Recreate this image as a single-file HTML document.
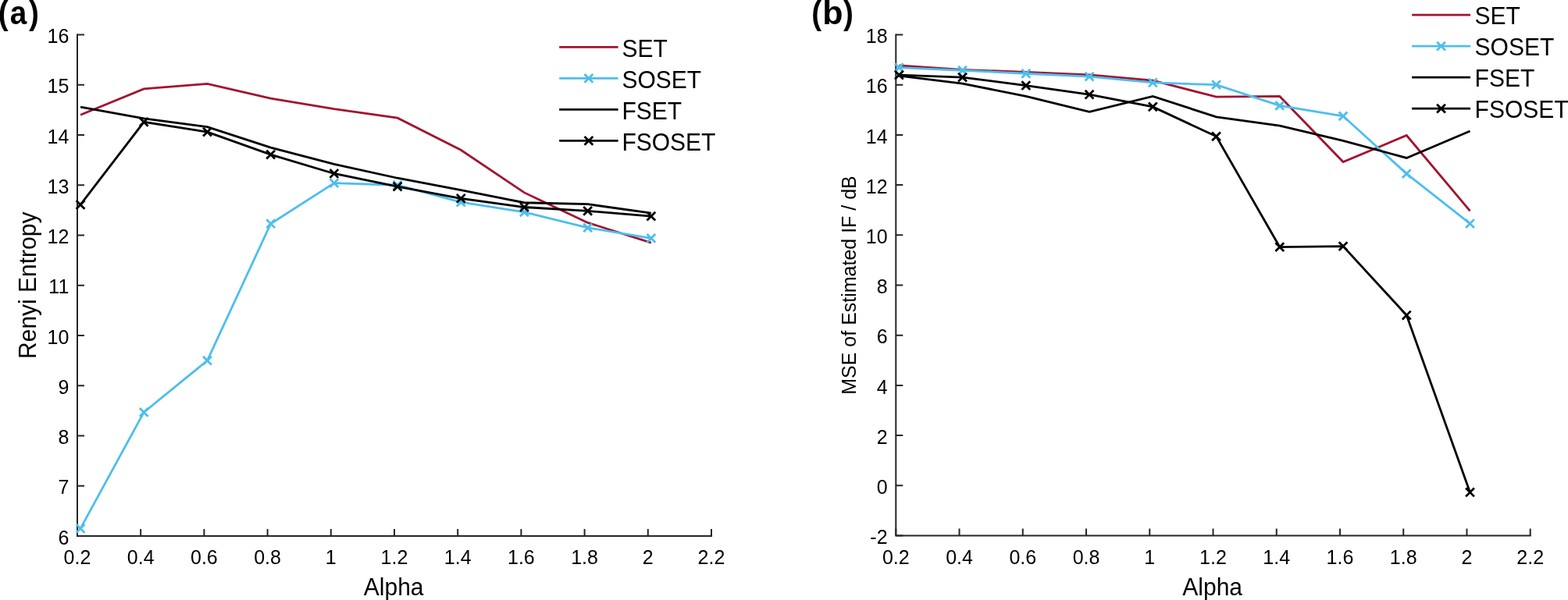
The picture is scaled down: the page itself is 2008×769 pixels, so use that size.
<!DOCTYPE html>
<html><head><meta charset="utf-8"><title>Renyi Entropy and MSE vs Alpha</title>
<style>
html,body{margin:0;padding:0;background:#fff;}
body{width:2008px;height:769px;overflow:hidden;}
svg{display:block;font-family:"Liberation Sans",Arial,Helvetica,sans-serif;}
.tk{font-size:25px;fill:#000;}
.lb{font-size:30px;fill:#000;}
.lg{font-size:30px;fill:#000;}
.pl{font-size:43px;font-weight:bold;fill:#000;}
</style></head>
<body>
<svg width="2008" height="769" viewBox="0 0 2008 769">
<rect width="2008" height="769" fill="#fff"/>
<path d="M99.0 44.5V687.0H911.00" stroke="#262626" stroke-width="2.0" fill="none" stroke-linecap="square"/>
<path d="M99.00 687.0V678.0M180.20 687.0V678.0M261.40 687.0V678.0M342.60 687.0V678.0M423.80 687.0V678.0M505.00 687.0V678.0M586.20 687.0V678.0M667.40 687.0V678.0M748.60 687.0V678.0M829.80 687.0V678.0M911.00 687.0V678.0M99.0 687.00H108.0M99.0 622.75H108.0M99.0 558.50H108.0M99.0 494.25H108.0M99.0 430.00H108.0M99.0 365.75H108.0M99.0 301.50H108.0M99.0 237.25H108.0M99.0 173.00H108.0M99.0 108.75H108.0M99.0 44.50H108.0" stroke="#262626" stroke-width="2.0" fill="none"/>
<text x="99.00" y="723" class="tk" text-anchor="middle">0.2</text>
<text x="180.20" y="723" class="tk" text-anchor="middle">0.4</text>
<text x="261.40" y="723" class="tk" text-anchor="middle">0.6</text>
<text x="342.60" y="723" class="tk" text-anchor="middle">0.8</text>
<text x="423.80" y="723" class="tk" text-anchor="middle">1</text>
<text x="505.00" y="723" class="tk" text-anchor="middle">1.2</text>
<text x="586.20" y="723" class="tk" text-anchor="middle">1.4</text>
<text x="667.40" y="723" class="tk" text-anchor="middle">1.6</text>
<text x="748.60" y="723" class="tk" text-anchor="middle">1.8</text>
<text x="829.80" y="723" class="tk" text-anchor="middle">2</text>
<text x="911.00" y="723" class="tk" text-anchor="middle">2.2</text>
<text x="88.30" y="697.70" class="tk" text-anchor="end">6</text>
<text x="88.30" y="633.45" class="tk" text-anchor="end">7</text>
<text x="88.30" y="569.20" class="tk" text-anchor="end">8</text>
<text x="88.30" y="504.95" class="tk" text-anchor="end">9</text>
<text x="88.30" y="440.70" class="tk" text-anchor="end">10</text>
<text x="88.30" y="376.45" class="tk" text-anchor="end">11</text>
<text x="88.30" y="312.20" class="tk" text-anchor="end">12</text>
<text x="88.30" y="247.95" class="tk" text-anchor="end">13</text>
<text x="88.30" y="183.70" class="tk" text-anchor="end">14</text>
<text x="88.30" y="119.45" class="tk" text-anchor="end">15</text>
<text x="88.30" y="55.20" class="tk" text-anchor="end">16</text>
<text transform="translate(504.20 763) scale(1 1.03)" class="lb" text-anchor="middle">Alpha</text>
<text transform="translate(45.7 365.75) rotate(-90) scale(1 1.03)" x="0" y="0" style="font-size:30px" fill="#000" text-anchor="middle">Renyi Entropy</text>
<polyline points="103.06,147.30 184.26,113.89 265.46,107.47 346.66,126.10 427.86,139.59 509.06,151.16 590.26,192.28 671.46,246.89 752.66,285.44 833.86,311.14" stroke="#A2142F" stroke-width="2.8" fill="none" stroke-linejoin="miter"/>
<polyline points="103.06,677.36 184.26,528.30 265.46,462.12 346.66,286.72 427.86,234.68 509.06,237.25 590.26,259.10 671.46,271.94 752.66,291.86 833.86,305.36" stroke="#4DBEEE" stroke-width="2.8" fill="none" stroke-linejoin="miter"/>
<path d="M97.66 671.96L108.46 682.76M97.66 682.76L108.46 671.96" stroke="#4DBEEE" stroke-width="2.8" fill="none"/>
<path d="M178.86 522.90L189.66 533.70M178.86 533.70L189.66 522.90" stroke="#4DBEEE" stroke-width="2.8" fill="none"/>
<path d="M260.06 456.73L270.86 467.52M260.06 467.52L270.86 456.73" stroke="#4DBEEE" stroke-width="2.8" fill="none"/>
<path d="M341.26 281.32L352.06 292.12M341.26 292.12L352.06 281.32" stroke="#4DBEEE" stroke-width="2.8" fill="none"/>
<path d="M422.46 229.28L433.26 240.08M422.46 240.08L433.26 229.28" stroke="#4DBEEE" stroke-width="2.8" fill="none"/>
<path d="M503.66 231.85L514.46 242.65M503.66 242.65L514.46 231.85" stroke="#4DBEEE" stroke-width="2.8" fill="none"/>
<path d="M584.86 253.70L595.66 264.50M584.86 264.50L595.66 253.70" stroke="#4DBEEE" stroke-width="2.8" fill="none"/>
<path d="M666.06 266.54L676.86 277.34M666.06 277.34L676.86 266.54" stroke="#4DBEEE" stroke-width="2.8" fill="none"/>
<path d="M747.26 286.46L758.06 297.26M747.26 297.26L758.06 286.46" stroke="#4DBEEE" stroke-width="2.8" fill="none"/>
<path d="M828.46 299.96L839.26 310.75M828.46 310.75L839.26 299.96" stroke="#4DBEEE" stroke-width="2.8" fill="none"/>
<polyline points="103.06,137.02 184.26,151.80 265.46,162.72 346.66,189.06 427.86,210.27 509.06,228.25 590.26,243.67 671.46,259.74 752.66,261.67 833.86,273.23" stroke="#000000" stroke-width="2.8" fill="none" stroke-linejoin="miter"/>
<polyline points="103.06,262.31 184.26,156.30 265.46,169.14 346.66,198.06 427.86,222.47 509.06,239.18 590.26,254.28 671.46,265.52 752.66,270.34 833.86,277.08" stroke="#000000" stroke-width="2.8" fill="none" stroke-linejoin="miter"/>
<path d="M97.66 256.91L108.46 267.71M97.66 267.71L108.46 256.91" stroke="#000000" stroke-width="2.8" fill="none"/>
<path d="M178.86 150.90L189.66 161.70M178.86 161.70L189.66 150.90" stroke="#000000" stroke-width="2.8" fill="none"/>
<path d="M260.06 163.74L270.86 174.54M260.06 174.54L270.86 163.74" stroke="#000000" stroke-width="2.8" fill="none"/>
<path d="M341.26 192.66L352.06 203.46M341.26 203.46L352.06 192.66" stroke="#000000" stroke-width="2.8" fill="none"/>
<path d="M422.46 217.07L433.26 227.87M422.46 227.87L433.26 217.07" stroke="#000000" stroke-width="2.8" fill="none"/>
<path d="M503.66 233.78L514.46 244.58M503.66 244.58L514.46 233.78" stroke="#000000" stroke-width="2.8" fill="none"/>
<path d="M584.86 248.88L595.66 259.68M584.86 259.68L595.66 248.88" stroke="#000000" stroke-width="2.8" fill="none"/>
<path d="M666.06 260.12L676.86 270.92M666.06 270.92L676.86 260.12" stroke="#000000" stroke-width="2.8" fill="none"/>
<path d="M747.26 264.94L758.06 275.74M747.26 275.74L758.06 264.94" stroke="#000000" stroke-width="2.8" fill="none"/>
<path d="M828.46 271.68L839.26 282.48M828.46 282.48L839.26 271.68" stroke="#000000" stroke-width="2.8" fill="none"/>
<path d="M716.2 60.45H791.6" stroke="#A2142F" stroke-width="2.8"/>
<text transform="translate(796.4 72.90) scale(1 1.06)" class="lg">SET</text>
<path d="M716.2 100.45H791.6" stroke="#4DBEEE" stroke-width="2.8"/>
<path d="M748.50 95.05L759.30 105.85M748.50 105.85L759.30 95.05" stroke="#4DBEEE" stroke-width="2.8" fill="none"/>
<text transform="translate(796.4 112.90) scale(1 1.06)" class="lg">SOSET</text>
<path d="M716.2 140.45H791.6" stroke="#000000" stroke-width="2.8"/>
<text transform="translate(796.4 152.90) scale(1 1.06)" class="lg">FSET</text>
<path d="M716.2 180.45H791.6" stroke="#000000" stroke-width="2.8"/>
<path d="M748.50 175.05L759.30 185.85M748.50 185.85L759.30 175.05" stroke="#000000" stroke-width="2.8" fill="none"/>
<text transform="translate(796.4 192.90) scale(1 1.06)" class="lg">FSOSET</text>
<path d="M1147.3 44.5V686.5H1959.70" stroke="#262626" stroke-width="2.0" fill="none" stroke-linecap="square"/>
<path d="M1147.30 686.5V677.5M1228.54 686.5V677.5M1309.78 686.5V677.5M1391.02 686.5V677.5M1472.26 686.5V677.5M1553.50 686.5V677.5M1634.74 686.5V677.5M1715.98 686.5V677.5M1797.22 686.5V677.5M1878.46 686.5V677.5M1959.70 686.5V677.5M1147.3 686.50H1156.3M1147.3 622.30H1156.3M1147.3 558.10H1156.3M1147.3 493.90H1156.3M1147.3 429.70H1156.3M1147.3 365.50H1156.3M1147.3 301.30H1156.3M1147.3 237.10H1156.3M1147.3 172.90H1156.3M1147.3 108.70H1156.3M1147.3 44.50H1156.3" stroke="#262626" stroke-width="2.0" fill="none"/>
<text x="1147.30" y="723" class="tk" text-anchor="middle">0.2</text>
<text x="1228.54" y="723" class="tk" text-anchor="middle">0.4</text>
<text x="1309.78" y="723" class="tk" text-anchor="middle">0.6</text>
<text x="1391.02" y="723" class="tk" text-anchor="middle">0.8</text>
<text x="1472.26" y="723" class="tk" text-anchor="middle">1</text>
<text x="1553.50" y="723" class="tk" text-anchor="middle">1.2</text>
<text x="1634.74" y="723" class="tk" text-anchor="middle">1.4</text>
<text x="1715.98" y="723" class="tk" text-anchor="middle">1.6</text>
<text x="1797.22" y="723" class="tk" text-anchor="middle">1.8</text>
<text x="1878.46" y="723" class="tk" text-anchor="middle">2</text>
<text x="1959.70" y="723" class="tk" text-anchor="middle">2.2</text>
<text x="1136.60" y="697.20" class="tk" text-anchor="end">-2</text>
<text x="1136.60" y="633.00" class="tk" text-anchor="end">0</text>
<text x="1136.60" y="568.80" class="tk" text-anchor="end">2</text>
<text x="1136.60" y="504.60" class="tk" text-anchor="end">4</text>
<text x="1136.60" y="440.40" class="tk" text-anchor="end">6</text>
<text x="1136.60" y="376.20" class="tk" text-anchor="end">8</text>
<text x="1136.60" y="312.00" class="tk" text-anchor="end">10</text>
<text x="1136.60" y="247.80" class="tk" text-anchor="end">12</text>
<text x="1136.60" y="183.60" class="tk" text-anchor="end">14</text>
<text x="1136.60" y="119.40" class="tk" text-anchor="end">16</text>
<text x="1136.60" y="55.20" class="tk" text-anchor="end">18</text>
<text transform="translate(1552.70 763) scale(1 1.03)" class="lb" text-anchor="middle">Alpha</text>
<text transform="translate(1095.8 365.50) rotate(-90) scale(1 1.03)" x="0" y="0" style="font-size:25px" fill="#000" text-anchor="middle">MSE of Estimated IF / dB</text>
<polyline points="1151.36,83.98 1232.60,89.44 1313.84,92.33 1395.08,95.86 1476.32,103.24 1557.56,124.11 1638.80,123.47 1720.04,207.57 1801.28,173.54 1882.52,270.32" stroke="#A2142F" stroke-width="2.8" fill="none" stroke-linejoin="miter"/>
<polyline points="1151.36,86.55 1232.60,90.24 1313.84,94.26 1395.08,98.11 1476.32,105.97 1557.56,108.70 1638.80,135.34 1720.04,148.82 1801.28,222.66 1882.52,286.53" stroke="#4DBEEE" stroke-width="2.8" fill="none" stroke-linejoin="miter"/>
<path d="M1145.96 81.15L1156.76 91.95M1145.96 91.95L1156.76 81.15" stroke="#4DBEEE" stroke-width="2.8" fill="none"/>
<path d="M1227.20 84.84L1238.00 95.64M1227.20 95.64L1238.00 84.84" stroke="#4DBEEE" stroke-width="2.8" fill="none"/>
<path d="M1308.44 88.86L1319.24 99.66M1308.44 99.66L1319.24 88.86" stroke="#4DBEEE" stroke-width="2.8" fill="none"/>
<path d="M1389.68 92.71L1400.48 103.51M1389.68 103.51L1400.48 92.71" stroke="#4DBEEE" stroke-width="2.8" fill="none"/>
<path d="M1470.92 100.57L1481.72 111.37M1470.92 111.37L1481.72 100.57" stroke="#4DBEEE" stroke-width="2.8" fill="none"/>
<path d="M1552.16 103.30L1562.96 114.10M1552.16 114.10L1562.96 103.30" stroke="#4DBEEE" stroke-width="2.8" fill="none"/>
<path d="M1633.40 129.94L1644.20 140.74M1633.40 140.74L1644.20 129.94" stroke="#4DBEEE" stroke-width="2.8" fill="none"/>
<path d="M1714.64 143.42L1725.44 154.22M1714.64 154.22L1725.44 143.42" stroke="#4DBEEE" stroke-width="2.8" fill="none"/>
<path d="M1795.88 217.26L1806.68 228.06M1795.88 228.06L1806.68 217.26" stroke="#4DBEEE" stroke-width="2.8" fill="none"/>
<path d="M1877.12 281.13L1887.92 291.93M1877.12 291.93L1887.92 281.13" stroke="#4DBEEE" stroke-width="2.8" fill="none"/>
<polyline points="1151.36,97.14 1232.60,107.09 1313.84,123.47 1395.08,143.37 1476.32,123.47 1557.56,149.79 1638.80,161.02 1720.04,180.28 1801.28,202.43 1882.52,168.08" stroke="#000000" stroke-width="2.8" fill="none" stroke-linejoin="miter"/>
<polyline points="1151.36,96.18 1232.60,99.07 1313.84,109.66 1395.08,121.22 1476.32,136.95 1557.56,174.83 1638.80,316.55 1720.04,315.58 1801.28,404.02 1882.52,630.97" stroke="#000000" stroke-width="2.8" fill="none" stroke-linejoin="miter"/>
<path d="M1145.96 90.78L1156.76 101.58M1145.96 101.58L1156.76 90.78" stroke="#000000" stroke-width="2.8" fill="none"/>
<path d="M1227.20 93.67L1238.00 104.47M1227.20 104.47L1238.00 93.67" stroke="#000000" stroke-width="2.8" fill="none"/>
<path d="M1308.44 104.26L1319.24 115.06M1308.44 115.06L1319.24 104.26" stroke="#000000" stroke-width="2.8" fill="none"/>
<path d="M1389.68 115.82L1400.48 126.62M1389.68 126.62L1400.48 115.82" stroke="#000000" stroke-width="2.8" fill="none"/>
<path d="M1470.92 131.55L1481.72 142.35M1470.92 142.35L1481.72 131.55" stroke="#000000" stroke-width="2.8" fill="none"/>
<path d="M1552.16 169.43L1562.96 180.23M1552.16 180.23L1562.96 169.43" stroke="#000000" stroke-width="2.8" fill="none"/>
<path d="M1633.40 311.15L1644.20 321.95M1633.40 321.95L1644.20 311.15" stroke="#000000" stroke-width="2.8" fill="none"/>
<path d="M1714.64 310.18L1725.44 320.98M1714.64 320.98L1725.44 310.18" stroke="#000000" stroke-width="2.8" fill="none"/>
<path d="M1795.88 398.62L1806.68 409.42M1795.88 409.42L1806.68 398.62" stroke="#000000" stroke-width="2.8" fill="none"/>
<path d="M1877.12 625.57L1887.92 636.37M1877.12 636.37L1887.92 625.57" stroke="#000000" stroke-width="2.8" fill="none"/>
<path d="M1808.1 19.10H1883.0" stroke="#A2142F" stroke-width="2.8"/>
<text transform="translate(1888.6 31.10) scale(1 1.06)" class="lg">SET</text>
<path d="M1808.1 59.10H1883.0" stroke="#4DBEEE" stroke-width="2.8"/>
<path d="M1840.15 53.70L1850.95 64.50M1840.15 64.50L1850.95 53.70" stroke="#4DBEEE" stroke-width="2.8" fill="none"/>
<text transform="translate(1888.6 71.10) scale(1 1.06)" class="lg">SOSET</text>
<path d="M1808.1 99.10H1883.0" stroke="#000000" stroke-width="2.8"/>
<text transform="translate(1888.6 111.10) scale(1 1.06)" class="lg">FSET</text>
<path d="M1808.1 139.10H1883.0" stroke="#000000" stroke-width="2.8"/>
<path d="M1840.15 133.70L1850.95 144.50M1840.15 144.50L1850.95 133.70" stroke="#000000" stroke-width="2.8" fill="none"/>
<text transform="translate(1888.6 151.10) scale(1 1.06)" class="lg">FSOSET</text>
<text transform="translate(0 31.2) scale(0.9 1)" class="pl"><tspan x="-2.38">(</tspan><tspan x="14.18">a</tspan><tspan x="41.22">)</tspan></text>
<text y="31.2" class="pl"><tspan x="1039.3" textLength="12.89" lengthAdjust="spacingAndGlyphs">(</tspan><tspan x="1053.18">b</tspan><tspan x="1080.0" textLength="12.89" lengthAdjust="spacingAndGlyphs">)</tspan></text>
</svg>
</body></html>
